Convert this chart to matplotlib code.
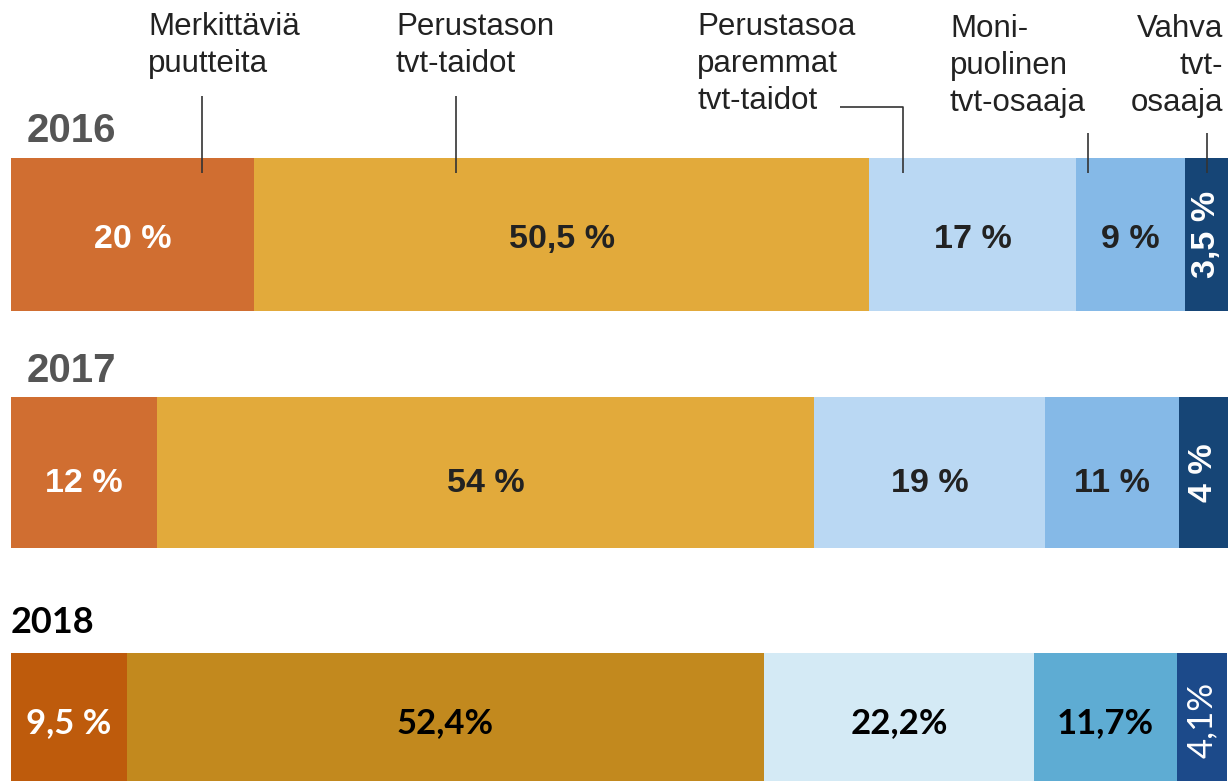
import matplotlib.pyplot as plt

# data
years = ["2016", "2017", "2018"]
categories = ["Merkittäviä\npuutteita", "Perustason\ntvt-taidot",
              "Perustasoa\nparemmat\ntvt-taidot", "Moni-\npuolinen\ntvt-osaaja",
              "Vahva\ntvt-\nosaaja"]
shares_2016 = [20, 50.5, 17, 9, 3.5]
shares_2017 = [12, 54, 19, 11, 4]
shares_2018 = [9.5, 52.4, 22.2, 11.7, 4.1]
labels_2016 = ["20 %", "50,5 %", "17 %", "9 %", "3,5 %"]
labels_2017 = ["12 %", "54 %", "19 %", "11 %", "4 %"]
labels_2018 = ["9,5 %", "52,4%", "22,2%", "11,7%", "4,1%"]

# colours
old_colors = ["#D06E31", "#E2AA3B", "#BAD8F3", "#85B9E7", "#164576"]
new_colors = ["#BE5B0C", "#C2891E", "#D4EAF5", "#5EACD3", "#1C4A8A"]
old_text = ["white", "#222222", "#222222", "#222222", "white"]
new_text = ["white", "black", "black", "black", "white"]

W, H = 1229, 781
PX = 12.17  # pixels per percent


def px(x):
    # pixel x -> percent axis units
    return (x - 11) / PX


fig = plt.figure(figsize=(W / 100, H / 100), dpi=100)
ax = fig.add_axes([0, 0, 1, 1])
ax.set_xlim(px(0), px(W))
ax.set_ylim(H, 0)
ax.axis("off")

rows = [
    # year, shares, labels, colours, text colours, bar centre, height, baseline, year y, year x, font
    (years[0], shares_2016, labels_2016, old_colors, old_text, 234.5, 153, 248, 142, 27, "old"),
    (years[1], shares_2017, labels_2017, old_colors, old_text, 472.5, 151, 492, 382, 27, "old"),
    (years[2], shares_2018, labels_2018, new_colors, new_text, 720, 134, 733, 633, 11, "new"),
]

for year, shares, labels, cols, tcols, yc, h, base, yy, yx, style in rows:
    lefts = []
    acc = 0
    for s in shares:
        lefts.append(acc)
        acc += s
    ax.barh(yc, shares, left=lefts, height=h, color=cols, edgecolor="none")

    if style == "old":
        fam, vsize, ysize, ycol = "Liberation Sans", 24.5, 29, "#555555"
    else:
        fam, vsize, ysize, ycol = "Lato", 25, 26, "black"

    ax.text(px(yx), yy, year, family=fam, fontsize=ysize, fontweight="bold",
            color=ycol, ha="left", va="baseline")

    for i, (l, s, lab) in enumerate(zip(lefts, shares, labels)):
        xc = l + s / 2
        if i == len(shares) - 1:
            weight = "normal" if style == "new" else "bold"
            ax.text(xc, yc, lab, family=fam, fontsize=vsize, fontweight=weight,
                    color=tcols[i], ha="center", va="center", rotation=90)
        else:
            ax.text(xc, base, lab, family=fam, fontsize=vsize, fontweight="bold",
                    color=tcols[i], ha="center", va="baseline")

# category labels with leader lines
lab_font = dict(family="Liberation Sans", fontsize=22.5, color="#222222",
                va="top", linespacing=1.3)
ax.text(px(148), 12, categories[0], ha="left", **lab_font)
ax.text(px(396), 12, categories[1], ha="left", **lab_font)
ax.text(px(697), 12, categories[2], ha="left", **lab_font)
ax.text(px(950), 14, categories[3], ha="left", **lab_font)
ax.text(px(1223), 14, categories[4], ha="right", multialignment="right", **lab_font)

line_kw = dict(color="#333333", lw=1.2, solid_capstyle="butt")
ax.plot([px(202), px(202)], [96, 173], **line_kw)
ax.plot([px(456), px(456)], [96, 173], **line_kw)
ax.plot([px(840), px(903), px(903)], [107, 107, 173], **line_kw)
ax.plot([px(1088), px(1088)], [133, 173], **line_kw)
ax.plot([px(1207), px(1207)], [133, 173], **line_kw)

fig.savefig("out.png", dpi=100)
